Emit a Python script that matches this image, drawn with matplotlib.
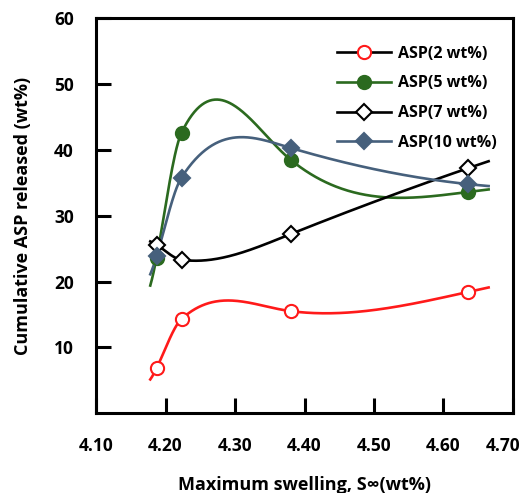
import numpy as np
import matplotlib
matplotlib.use("Agg")
import matplotlib.pyplot as plt
import matplotlib.transforms as mtransforms
from matplotlib.lines import Line2D

plt.rcParams['font.family'] = ['Open Sans', 'DejaVu Sans']
plt.rcParams['font.weight'] = 'bold'

# Maximum swelling (wt%) for each formulation
swelling = [4.187, 4.223, 4.380, 4.635]

# Cumulative ASP released (wt%)
asp_2 = [6.8, 14.3, 15.5, 18.4]
asp_5 = [23.6, 42.6, 38.5, 33.6]
asp_7 = [25.6, 23.3, 27.2, 37.2]
asp_10 = [23.8, 35.8, 40.3, 34.8]

labels = ['ASP(2 wt%)', 'ASP(5 wt%)', 'ASP(7 wt%)', 'ASP(10 wt%)']
x_ticks = [4.10, 4.20, 4.30, 4.40, 4.50, 4.60, 4.70]
y_ticks = [10, 20, 30, 40, 50, 60]

RED = '#FF1A1A'
GREEN = '#2B6A1F'
BLUE = '#46607C'
BLACK = '#000000'


def smooth_curve(x, y, xn, tension=0.42):
    """Cubic Hermite curve through (x, y).

    Knot slopes are a mix of natural-spline slopes and centred
    finite differences; the end pieces are extended past the data.
    """
    x = np.asarray(x, float)
    y = np.asarray(y, float)
    n = len(x)
    h = np.diff(x)
    s = np.diff(y) / h
    # natural spline second derivatives
    A = np.zeros((n, n))
    b = np.zeros(n)
    A[0, 0] = A[-1, -1] = 1.0
    for i in range(1, n - 1):
        A[i, i - 1] = h[i - 1]
        A[i, i] = 2 * (h[i - 1] + h[i])
        A[i, i + 1] = h[i]
        b[i] = 6 * (s[i] - s[i - 1])
    M = np.linalg.solve(A, b)
    m_nat = np.empty(n)
    m_nat[:-1] = s - h * (2 * M[:-1] + M[1:]) / 6
    m_nat[-1] = s[-1] + h[-1] * (M[-2] + 2 * M[-1]) / 6
    # finite-difference slopes
    m_fd = np.empty(n)
    m_fd[0], m_fd[-1] = s[0], s[-1]
    m_fd[1:-1] = (y[2:] - y[:-2]) / (x[2:] - x[:-2])
    m = tension * m_nat + (1 - tension) * m_fd

    idx = np.clip(np.searchsorted(x, xn) - 1, 0, n - 2)
    hh = h[idx]
    t = (xn - x[idx]) / hh
    h00 = 2 * t ** 3 - 3 * t ** 2 + 1
    h10 = t ** 3 - 2 * t ** 2 + t
    h01 = -2 * t ** 3 + 3 * t ** 2
    h11 = t ** 3 - t ** 2
    return (h00 * y[idx] + h10 * hh * m[idx]
            + h01 * y[idx + 1] + h11 * hh * m[idx + 1])


fig = plt.figure(figsize=(5.25, 4.93), dpi=100)
ax = fig.add_axes([0.183, 0.162, 0.794, 0.801])

series = [
    (asp_2, RED, 'o', 'white', RED, BLACK),
    (asp_5, GREEN, 'o', GREEN, GREEN, GREEN),
    (asp_7, BLACK, 'D', 'white', BLACK, BLACK),
    (asp_10, BLUE, 'D', BLUE, BLUE, BLUE),
]

xfit = np.linspace(4.178, 4.665, 400)
handles = []
for (vals, lc, mk, mfc, mec, leg_lc), lab in zip(series, labels):
    ax.plot(xfit, smooth_curve(swelling, vals, xfit), color=lc, lw=1.9,
            zorder=2)
    ms = 9.5 if mk == 'o' else 8.5
    ax.plot(swelling, vals, linestyle='none', marker=mk, ms=ms, mfc=mfc,
            mec=mec, mew=1.5, zorder=3)
    handles.append(Line2D([0], [0], color=leg_lc, lw=1.9, marker=mk,
                          ms=ms, mfc=mfc, mec=mec, mew=1.5, label=lab))

ax.set_xlim(4.10, 4.70)
ax.set_ylim(0, 60)
ax.set_xticks(x_ticks)
ax.set_xticklabels([f'{v:.2f}' for v in x_ticks])
ax.set_yticks(y_ticks)
ax.set_yticklabels([str(v) for v in y_ticks])
ax.tick_params(axis='both', direction='in', length=11, width=2.2,
               labelsize=12.5)
ax.tick_params(axis='y', pad=16)
ax.tick_params(axis='x', pad=17)
for sp in ax.spines.values():
    sp.set_linewidth(2.2)

# keep the last x tick label inside the canvas
last = ax.get_xticklabels()[-1]
last.set_transform(last.get_transform() +
                   mtransforms.ScaledTranslation(-10 / 100, 0,
                                                 fig.dpi_scale_trans))

ax.set_xlabel('Maximum swelling, S\u221e(wt%)', fontsize=13,
              fontweight='bold', labelpad=15)
ax.set_ylabel('Cumulative ASP released (wt%)', fontsize=13,
              fontweight='bold', labelpad=16)

leg = ax.legend(handles=handles, loc='upper right', frameon=False,
                fontsize=11.5, handlelength=3.4, labelspacing=0.86,
                borderaxespad=0.5, handletextpad=0.4,
                bbox_to_anchor=(0.995, 0.967))
for t in leg.get_texts():
    t.set_fontweight('bold')

fig.savefig('out.png', dpi=100)
